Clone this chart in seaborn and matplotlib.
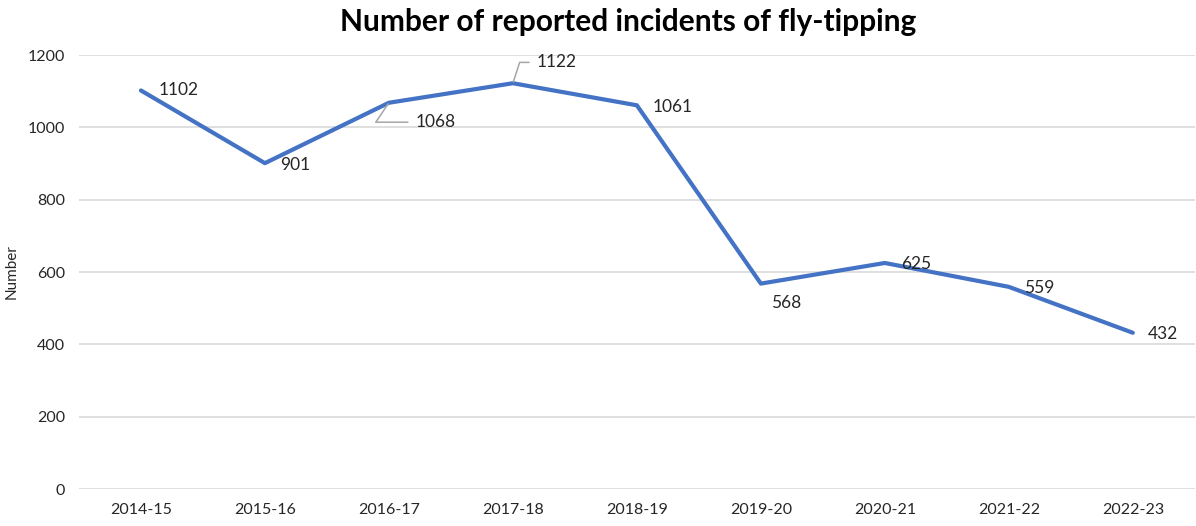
"""Fly-tipping incidents line chart."""

import matplotlib.pyplot as plt
import pandas as pd
import seaborn as sns

years = ['2014-15', '2015-16', '2016-17', '2017-18', '2018-19',
         '2019-20', '2020-21', '2021-22', '2022-23']
incidents = [1102, 901, 1068, 1122, 1061, 568, 625, 559, 432]

# label offsets in points (dx, dy); leader angle in degrees or None
label_offsets = [(13, 0), (11, -1), (19, -14), (17, 15), (11, -1),
                 (7, -14), (12, -1), (11, -1), (11, -1)]
leader_angles = [None, None, 56, 72, None, None, None, None, None]

df = pd.DataFrame({'Year': years, 'Number': incidents})

sns.set_theme(style='white')
plt.rcParams['font.family'] = ['Lato', 'DejaVu Sans']

fig = plt.figure(figsize=(11.96, 5.26), dpi=100)
ax = fig.add_axes([0.066, 0.0703, 0.933, 0.8251])

sns.lineplot(data=df, x='Year', y='Number', sort=False, ax=ax,
             color='#4472C4', linewidth=3)

ax.set_xlim(-0.5, len(years) - 0.5)
ax.set_ylim(0, 1200)
ax.set_yticks(range(0, 1201, 200))
ax.grid(axis='y', color='#d9d9d9', linewidth=1.2)
ax.set_axisbelow(True)
for s in ax.spines.values():
    s.set_visible(False)
ax.tick_params(axis='both', length=0, labelsize=11.5, colors='#262626', pad=10)
ax.set_xlabel('')
ax.set_ylabel('Number', fontsize=11, color='#262626')
ax.yaxis.set_label_coords(-0.054, 0.5)

for i, (v, (dx, dy), ang) in enumerate(zip(incidents, label_offsets, leader_angles)):
    props = None
    if ang is not None:
        props = dict(arrowstyle='-', color='#a6a6a6', lw=1.1,
                     connectionstyle=f'angle,angleA=0,angleB={ang},rad=0',
                     shrinkA=3, shrinkB=1)
    ax.annotate(str(v), xy=(i, v), xytext=(dx, dy), textcoords='offset points',
                ha='left', va='center', fontsize=12.5, color='#262626',
                arrowprops=props)

fig.suptitle('Number of reported incidents of fly-tipping', x=0.525, y=0.985,
             fontsize=21.5, fontweight='bold', color='black')

fig.savefig('out.png', dpi=100)
